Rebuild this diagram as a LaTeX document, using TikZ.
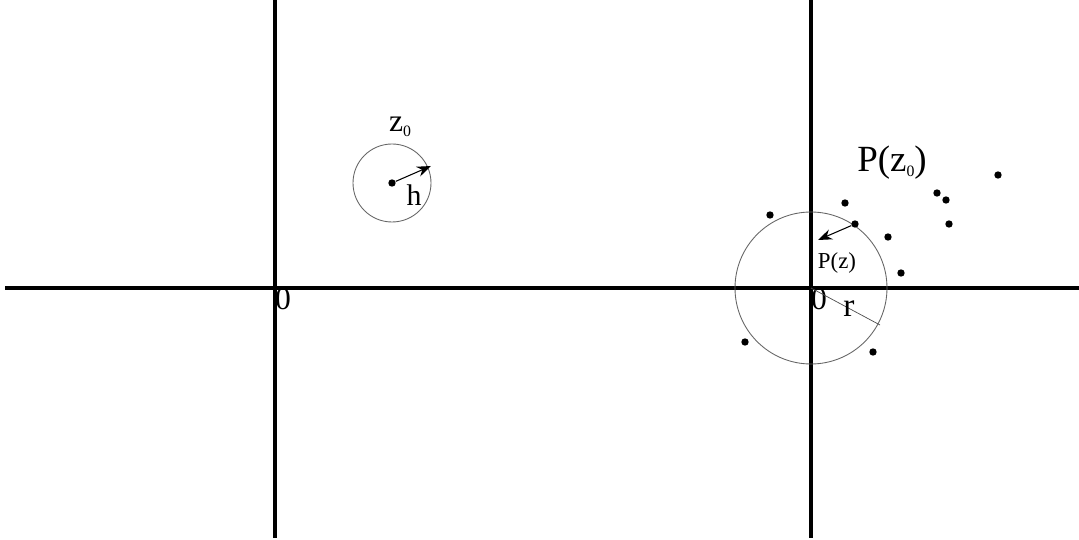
\documentclass[tikz,border=0pt]{standalone}
\usepackage{fontspec}
\setmainfont{Liberation Serif}
\usetikzlibrary{arrows.meta}
\newcommand{\subz}{z\raisebox{-0.3ex}{\fontsize{9}{9}\selectfont 0}}
\begin{document}
\begin{tikzpicture}[x=0.02cm,y=-0.02cm,
  axis/.style={line width=1.9pt},
  ring/.style={draw=black!60,line width=0.5pt},
  pt/.style={circle,fill=black,inner sep=0pt,minimum size=4.2pt},
  lbl/.style={inner sep=0pt,font=\fontsize{18}{18}\selectfont},
  vec/.style={line width=0.6pt,-{Stealth[length=8pt,width=6pt]}}]
\useasboundingbox (0,0) rectangle (1079,540);
% axes
\coordinate (hl) at (5,288); \coordinate (hr) at (1079,288);
\coordinate (v1t) at (275,0); \coordinate (v1b) at (275,538);
\coordinate (v2t) at (811,0); \coordinate (v2b) at (811,538);
\draw[axis] (hl) -- (hr);
\draw[axis] (v1t) -- (v1b);
\draw[axis] (v2t) -- (v2b);
\node[lbl] (o1) at (283,299) {0};
\node[lbl] (o2) at (819,299) {0};
% left disc
\node[pt] (z0) at (392,183) {};
\draw[ring] (z0.center) circle[radius=39];
\coordinate (hend) at (431,166);
\draw[vec] (z0) -- (hend);
\node[lbl,font=\fontsize{17}{17}\selectfont] (h) at (414,195) {h};
\node[lbl] (z0l) at (400,127) {\subz};
% right disc
\coordinate (O) at (811,288);
\draw[ring] (O) circle[radius=76];
\coordinate (rend) at (880,325);
\draw[line width=0.4pt,draw=black!70] (O) -- (rend);
\node[lbl,font=\fontsize{19}{19}\selectfont] (r) at (849,309) {r};
\node[lbl,font=\fontsize{21}{21}\selectfont] (pz0) at (892,163) {P(\subz)};
\node[lbl,font=\fontsize{13}{13}\selectfont] (pz) at (837,263) {P(z)};
% points
\node[pt] (p1) at (770,215) {};
\node[pt] (p2) at (845,203) {};
\node[pt] (p3) at (855,224) {};
\node[pt] (p4) at (888,237) {};
\node[pt] (p5) at (901,273) {};
\node[pt] (p6) at (745,342) {};
\node[pt] (p7) at (873,352) {};
\node[pt] (p8) at (937,193) {};
\node[pt] (p9) at (946,200) {};
\node[pt] (p10) at (949,224) {};
\node[pt] (p11) at (998,175) {};
\coordinate (aend) at (818,240);
\draw[vec] (p3) -- (aend);
\end{tikzpicture}
\end{document}
